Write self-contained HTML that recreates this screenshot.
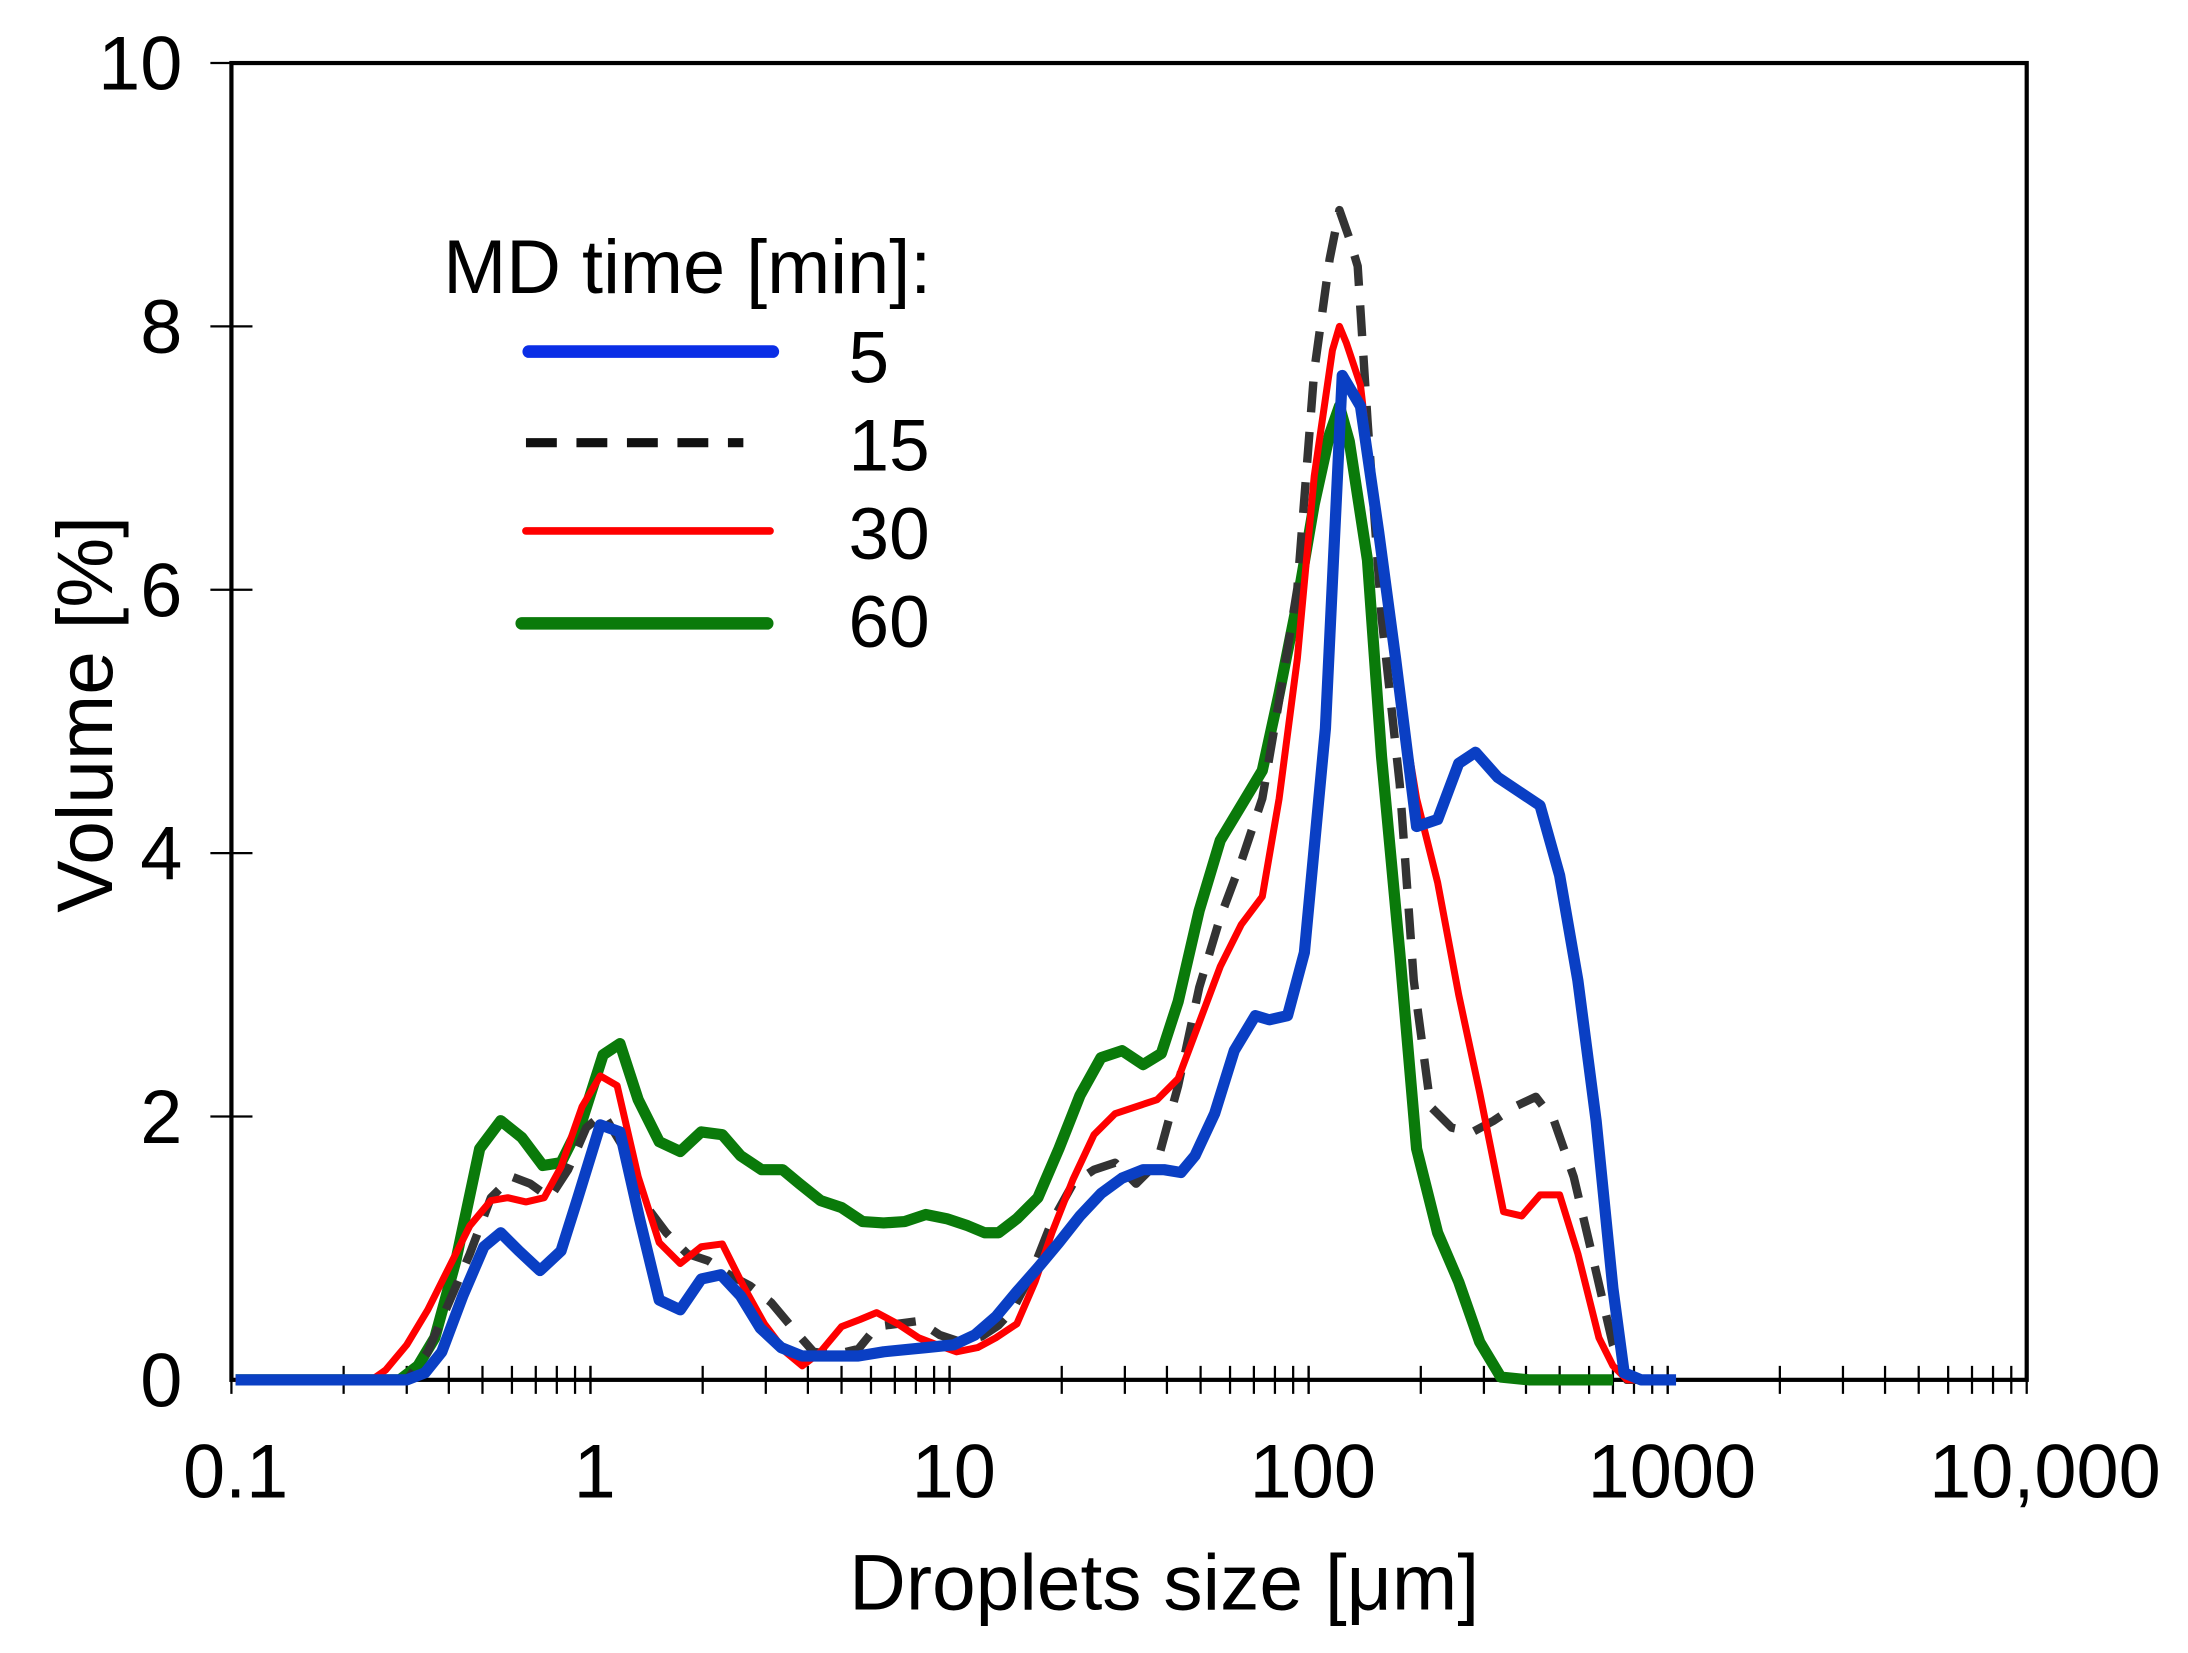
<!DOCTYPE html>
<html><head><meta charset="utf-8"><style>html,body{margin:0;padding:0;background:#fff}svg{display:block}</style></head>
<body>
<svg width="2188" height="1653" viewBox="0 0 1560 1180" preserveAspectRatio="none" xmlns="http://www.w3.org/2000/svg" font-family="Liberation Sans, Arial, sans-serif">
<rect x="0" y="0" width="1560" height="1180" fill="#fff"/>
<g stroke="#000" stroke-width="1.6" fill="none">
<path d="M150 45H165M150 233H180M150 421H180M150 609H180M150 797H180"/>
<path d="M165 975V995M245 975V995M290 975V995M320 975V995M344 975V995M365 975V995M382 975V995M397 975V995M410 975V995M421 975V995"/>
<path d="M421 975V995M501 975V995M546 975V995M576 975V995M600 975V995M621 975V995M638 975V995M653 975V995M666 975V995M677 975V995"/>
<path d="M677 975V995M757 975V995M802 975V995M832 975V995M856 975V995M877 975V995M894 975V995M909 975V995M922 975V995M933 975V995"/>
<path d="M933 975V995M1013 975V995M1058 975V995M1088 975V995M1112 975V995M1133 975V995M1150 975V995M1165 975V995M1178 975V995M1189 975V995"/>
<path d="M1189 975V995M1269 975V995M1314 975V995M1344 975V995M1368 975V995M1389 975V995M1406 975V995M1421 975V995M1434 975V995M1445 975V995"/>
</g>
<rect x="165" y="45" width="1280" height="940" fill="none" stroke="#000" stroke-width="3"/>
<g font-size="54" text-anchor="end" fill="#000">
<text x="130" y="64">10</text><text x="130" y="252">8</text><text x="130" y="440">6</text><text x="130" y="628">4</text><text x="130" y="816">2</text><text x="130" y="1004">0</text>
</g>
<g font-size="54" text-anchor="middle" fill="#000">
<text x="168" y="1069">0.1</text><text x="424" y="1069">1</text><text x="680" y="1069">10</text><text x="936" y="1069">100</text><text x="1192" y="1069">1000</text><text x="1458" y="1069">10,000</text>
</g>
<text x="830" y="1149" font-size="56" text-anchor="middle">Droplets size [μm]</text>
<text transform="translate(80,510) rotate(-90)" font-size="56" text-anchor="middle">Volume [%]</text>
<text x="316" y="209" font-size="54">MD time [min]:</text>
<g stroke-linecap="round">
<path d="M377 251H551" stroke="#0a2ee6" stroke-width="9"/>
<path d="M375 316H530" stroke="#111" stroke-width="6.5" stroke-dasharray="22 14" stroke-linecap="butt"/>
<path d="M375 379H549" stroke="#ff0000" stroke-width="5.5"/>
<path d="M372 445H547" stroke="#0a7a0a" stroke-width="9"/>
</g>
<g font-size="52"><text x="605" y="273">5</text><text x="605" y="336">15</text><text x="605" y="399">30</text><text x="605" y="462">60</text></g>
<g fill="none" stroke-linejoin="round">
<polyline stroke="#0a7a0a" stroke-width="8" points="168,985 285,985 298,975 310,955 325,900 342,820 357,800 372,812 387,832 400,830 415,800 430,753 442,745 455,785 470,815 485,822 500,808 515,810 528,825 543,835 558,835 570,845 585,857 600,862 615,872 630,873 645,872 660,867 675,870 690,875 702,880 712,880 725,870 740,855 755,820 770,782 785,755 800,750 815,760 828,752 840,715 855,650 870,600 885,575 900,550 912,495 925,430 937,360 948,310 955,290 962,315 975,400 985,540 998,680 1010,820 1025,880 1040,915 1055,958 1070,983 1090,985 1150,985"/>
<polyline stroke="#333" stroke-width="6" stroke-dasharray="22 14" points="168,985 290,985 305,965 320,930 335,895 350,855 365,840 378,845 392,855 405,835 418,805 430,795 445,820 460,860 475,880 490,895 505,900 520,910 535,918 550,930 565,948 580,965 595,967 612,963 625,947 640,945 655,943 670,953 685,958 700,954 712,946 722,935 735,910 750,872 765,845 780,835 795,830 810,845 825,830 840,775 855,705 870,655 885,615 900,570 912,500 925,420 937,265 948,185 955,150 962,170 968,190 975,300 985,440 998,560 1008,700 1020,790 1035,805 1050,808 1065,800 1080,790 1095,783 1108,800 1122,840 1135,895 1150,960 1160,985 1175,985"/>
<polyline stroke="#ff0000" stroke-width="5" points="168,985 265,985 275,978 290,960 305,935 320,905 335,875 350,857 362,855 375,858 388,855 400,833 415,790 428,768 440,775 455,840 470,887 485,902 500,890 515,888 530,918 545,945 560,965 572,975 585,965 600,947 613,942 625,937 640,945 655,955 668,960 682,965 697,962 710,955 725,945 738,915 750,880 765,842 780,810 795,795 810,790 825,785 840,770 855,730 870,690 885,660 900,640 912,570 925,470 937,340 950,250 955,233 960,245 970,275 982,380 995,480 1010,570 1025,630 1040,710 1055,780 1072,865 1085,868 1098,853 1112,853 1125,895 1140,955 1150,975 1160,985 1170,985"/>
<polyline stroke="#0a3fc4" stroke-width="8" points="168,985 290,985 303,980 315,965 330,925 345,890 357,880 370,893 385,907 400,893 412,855 428,803 442,808 456,870 470,928 485,935 500,913 514,910 528,925 542,948 557,962 572,968 590,968 612,968 630,965 660,962 680,960 695,953 710,940 725,922 740,905 755,887 770,868 785,852 800,841 815,835 830,835 842,837 852,825 866,795 880,750 895,725 905,728 918,725 930,680 945,520 957,268 970,290 983,380 995,470 1010,590 1025,585 1040,545 1052,537 1068,555 1083,565 1098,575 1112,625 1125,700 1138,800 1150,920 1158,980 1170,985 1195,985"/>
</g>
</svg>
</body></html>
